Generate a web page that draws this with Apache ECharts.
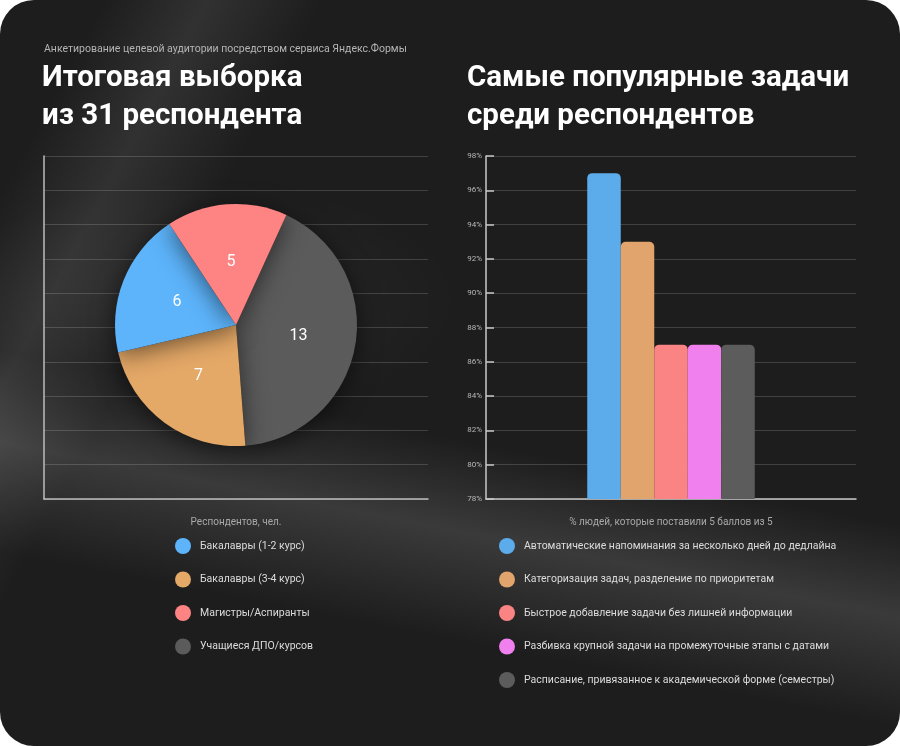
<!DOCTYPE html>
<html>
<head>
<meta charset="utf-8">
<script src="https://cdn.jsdelivr.net/npm/echarts@6/dist/echarts.min.js"></script>
<style>
  html, body { margin: 0; padding: 0; background: #ffffff; }
  #wrap {
    width: 900px; height: 746px; border-radius: 34px; overflow: hidden;
    background:
      linear-gradient(191deg, rgba(255,255,255,0) 57%, rgba(255,255,255,0.13) 67%, rgba(255,255,255,0) 79%),
      linear-gradient(118deg, rgba(255,255,255,0) 8%, rgba(255,255,255,0.09) 16%, rgba(255,255,255,0) 25%),
      radial-gradient(ellipse 260px 120px at 200px 300px, rgba(255,255,255,0.06), rgba(255,255,255,0)),
      #1d1d1d;
  }
  #chart { width: 900px; height: 746px; }
</style>
</head>
<body>
<div id="wrap"><div id="chart"></div></div>
<script>
// левый график: выборка
var pieNames = ['Бакалавры (1-2 курс)', 'Бакалавры (3-4 курс)', 'Магистры/Аспиранты', 'Учащиеся ДПО/курсов'];
var pieValues = [6, 7, 5, 13];
var pieColors = ['#5db4fb', '#e4a867', '#fe8383', '#5b5b5b'];
// порядок секторов по часовой стрелке, как на картинке
var pieOrder = [3, 1, 0, 2];

// правый график: задачи
var taskNames = [
    'Автоматические напоминания за несколько дней до дедлайна',
    'Категоризация задач, разделение по приоритетам',
    'Быстрое добавление задачи без лишней информации',
    'Разбивка крупной задачи на промежуточные этапы с датами',
    'Расписание, привязанное к академической форме (семестры)'
];
var taskValues = [97, 93, 87, 87, 87];
var taskColors = ['#5cacec', '#e0a46c', '#fa8484', '#ef80ee', '#5c5c5c'];

var myChart = echarts.init(document.getElementById('chart'), null, {renderer: 'canvas'});

var fontFam = 'Roboto, "Noto Sans", sans-serif';

var pieData = pieOrder.map(function (i) {
    return {name: pieNames[i], value: pieValues[i], itemStyle: {color: pieColors[i]}};
});

var barSeries = taskNames.map(function (name, i) {
    return {
        name: name,
        type: 'bar',
        xAxisIndex: 1,
        yAxisIndex: 1,
        barWidth: 33.5,
        barGap: '0%',
        data: [taskValues[i]],
        itemStyle: {color: taskColors[i], borderRadius: [5, 5, 0, 0]}
    };
});

var option = {
    backgroundColor: 'transparent',
    textStyle: {fontFamily: fontFam},
    color: taskColors,
    title: [
        {
            text: 'Анкетирование целевой аудитории посредством сервиса Яндекс.Формы',
            left: 38, top: 44, padding: [0, 6],
            textStyle: {color: '#b4b4b4', fontSize: 10.5, fontWeight: 'normal', fontFamily: fontFam}
        },
        {
            text: 'Итоговая выборка\nиз 31 респондента',
            left: 42, top: 60, padding: 0,
            textStyle: {color: '#ffffff', fontSize: 29.5, fontWeight: 'bold', lineHeight: 38, fontFamily: fontFam}
        },
        {
            text: 'Самые популярные задачи\nсреди респондентов',
            left: 467, top: 60, padding: 0,
            textStyle: {color: '#ffffff', fontSize: 29.5, fontWeight: 'bold', lineHeight: 38, fontFamily: fontFam}
        }
    ],
    legend: [
        {
            data: pieNames,
            orient: 'vertical',
            left: 175, top: 538, padding: 0,
            itemWidth: 16, itemHeight: 16, itemGap: 17.5,
            icon: 'circle',
            selectedMode: false,
            textStyle: {color: '#dcdcdc', fontSize: 10.5, padding: [0, 0, 0, 4]}
        },
        {
            data: taskNames,
            orient: 'vertical',
            left: 499, top: 538, padding: 0,
            itemWidth: 16, itemHeight: 16, itemGap: 17.5,
            icon: 'circle',
            selectedMode: false,
            textStyle: {color: '#dcdcdc', fontSize: 10.5, padding: [0, 0, 0, 4]}
        }
    ],
    grid: [
        {left: 44, top: 156, width: 384, height: 343},
        {left: 486, top: 156, width: 370, height: 343}
    ],
    xAxis: [
        {
            gridIndex: 0, type: 'category', data: [''],
            name: 'Респондентов, чел.', nameLocation: 'middle', nameGap: 18,
            nameTextStyle: {color: '#a8a8a8', fontSize: 10},
            axisLine: {lineStyle: {color: '#bdbdbd', width: 1.5}},
            axisTick: {show: false}, axisLabel: {show: false}
        },
        {
            gridIndex: 1, type: 'category', data: [''],
            name: '% людей, которые поставили 5 баллов из 5', nameLocation: 'middle', nameGap: 18,
            nameTextStyle: {color: '#a8a8a8', fontSize: 10},
            axisLine: {lineStyle: {color: '#c8c8c8', width: 1.5}},
            axisTick: {show: false}, axisLabel: {show: false}
        }
    ],
    yAxis: [
        {
            gridIndex: 0, type: 'value', min: 0, max: 10, interval: 1,
            axisLine: {show: true, lineStyle: {color: '#bdbdbd', width: 1.5}},
            axisTick: {show: false}, axisLabel: {show: false},
            splitLine: {lineStyle: {color: 'rgba(255,255,255,0.16)', width: 1}}
        },
        {
            gridIndex: 1, type: 'value', min: 78, max: 98, interval: 2,
            axisLine: {show: true, lineStyle: {color: '#c8c8c8', width: 1.5}},
            axisTick: {show: true, inside: true, length: 8, lineStyle: {color: '#c8c8c8', width: 1.5}},
            axisLabel: {color: '#b8b8b8', fontSize: 8, margin: 4, formatter: '{value}%'},
            splitLine: {lineStyle: {color: 'rgba(255,255,255,0.16)', width: 1}}
        }
    ],
    series: [
        {
            type: 'pie',
            center: [236, 325],
            radius: 121,
            startAngle: 65.4,
            clockwise: true,
            silent: true,
            data: pieData,
            label: {
                show: true, position: 'inside', color: '#ffffff', fontSize: 16,
                formatter: '{c}'
            },
            labelLine: {show: false},
            itemStyle: {shadowBlur: 24, shadowColor: 'rgba(0,0,0,0.55)', shadowOffsetY: 4}
        }
    ].concat(barSeries)
};

myChart.setOption(option);
</script>
</body>
</html>
